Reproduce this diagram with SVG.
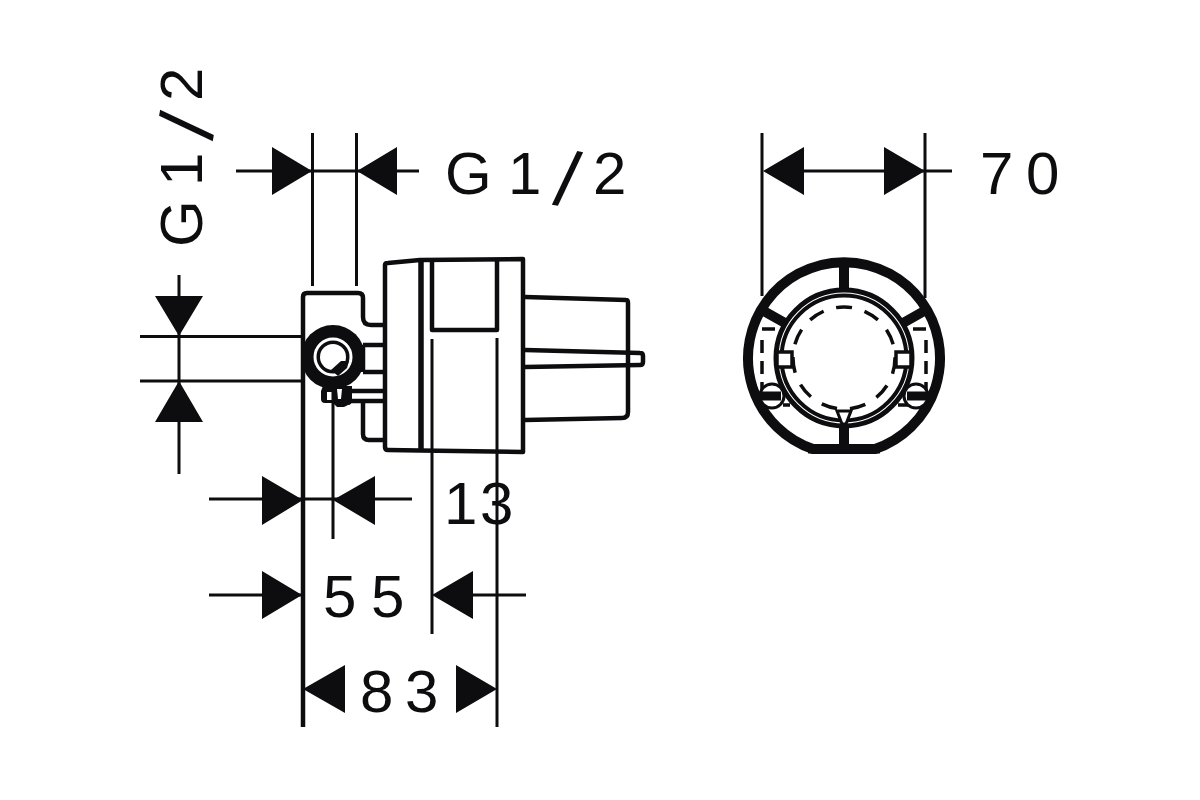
<svg xmlns="http://www.w3.org/2000/svg" width="1200" height="800" viewBox="0 0 1200 800">
<style>
.dim{fill:none;stroke:#0d0d0f;stroke-width:3}
.ar{fill:#0d0d0f;stroke:none}
.o{fill:none;stroke:#0d0d0f;stroke-width:4.500;stroke-linejoin:round}
.k{fill:none;stroke:#0d0d0f}
.t{font-family:"Liberation Sans",Arial,sans-serif;font-size:60px;fill:#0d0d0f}
.s{font-size:78px}
</style>
<rect width="1200" height="800" fill="#fff"/>
<g id="side-view">
<path class="o" d="M303 727V297Q303 293 307 293H358Q363 293 363 298V317Q363 325 371 325H385"/>
<path class="o" d="M363 345H385M363 372H385M363 372V345M345 391H385M345 401H385M363 401V434Q363 440 369 440H385"/>
<path class="o" d="M385 265Q385 263 388 263L420 260L523 259V452L420 450.500L388 450Q385 450 385 447Z"/>
<path class="o" style="stroke-width:5.500" d="M421 260V450"/>
<path class="o" d="M432 260V330H497V259"/>
<path class="o" d="M525 297L626 300Q628 300 628 303V412Q628 418 622 418L525 420"/>
<path class="o" d="M525 350L640 353Q643 353 643 356V362Q643 365 640 365L525 367"/>
<circle cx="333" cy="357" r="32" fill="#0d0d0f"/>
<circle cx="333" cy="357" r="18" fill="none" stroke="#fff" stroke-width="3"/>
<circle cx="333" cy="357" r="13" fill="#fff"/>
<path d="M331 370L341 361L349 361L347 368L338 376Z" fill="#0d0d0f"/>
<path d="M323 386H352V400Q352 405 348 405L344 407L337 407L333 403H325Q321 403 321 399V391Z" fill="#0d0d0f"/>
<rect x="327" y="392" width="5" height="8" fill="#fff"/>
<path d="M337 389H342L341 399H338Z" fill="#fff"/>
</g>
<g id="front-view">
<path class="k" d="M813 449A96 96 0 1 1 875 449Z" stroke-width="10" stroke-linejoin="round"/>
<path class="k" d="M808 450.500H880" stroke-width="6"/>
<circle class="k" cx="844" cy="358" r="68" stroke-width="5"/>
<circle class="k" cx="844" cy="358" r="62.500" stroke-width="4"/>
<circle class="k" cx="844" cy="358" r="51" stroke-width="3.500" stroke-dasharray="16 13"/>
<path class="k" d="M844 261V292M844 424V452M762 310L785 323M926 310L903 323" stroke-width="10"/>
<path class="k" d="M762 329H775M913 329H926M762 405H790M898 405H926M762 340V395M926 340V395" stroke-width="3.500" stroke-dasharray="13 8"/>
<circle cx="772" cy="396" r="12" fill="#fff" stroke="#0d0d0f" stroke-width="3"/>
<circle cx="916" cy="396" r="12" fill="#fff" stroke="#0d0d0f" stroke-width="3"/>
<path class="k" d="M758 396H781M907 396H930" stroke-width="9"/>
<path d="M777 352H792V367H777Z" fill="#fff" stroke="#0d0d0f" stroke-width="3.500"/>
<path d="M896 352H911V367H896Z" fill="#fff" stroke="#0d0d0f" stroke-width="3.500"/>
<path d="M837 411H851L846 424H842Z" fill="#fff" stroke="#0d0d0f" stroke-width="3"/>
</g>
<g id="connectors">
<path class="dim" d="M236 171H419M312.500 133V286M356.500 133V286M140 336.500H303M140 381H303M179 275V474M209 499H412M333 385V539M209 595H303M473 595H526M432 339V634M497 338V727M762 133V296M925 133V298M804 171H952"/>
<path class="ar" d="M272 147V195L312 171ZM397 147V195L357 171ZM155 296H203L179 336ZM155 422H203L179 381ZM262 476V525L303 500ZM375 476V525L333 500ZM262 571V619L302 595ZM473 571V619L432 595ZM345 665V713L303 689ZM456 665V713L497 689ZM804 147V195L763 171ZM884 147V195L925 171Z"/>
</g>
<g id="labels">
<text class="t" y="194"><tspan x="445">G</tspan><tspan x="508">1</tspan><tspan class="s" x="552" y="204" rotate="10">/</tspan><tspan x="593" y="194">2</tspan></text>
<text class="t" x="980 1026" y="194">70</text>
<text class="t" x="444 480" y="524">13</text>
<text class="t" x="323 371" y="617">55</text>
<text class="t" x="360 405" y="712">83</text>
<text class="t" transform="translate(202 247) rotate(-90)"><tspan x="0">G</tspan><tspan x="61">1</tspan><tspan class="s" x="106" y="10" rotate="10">/</tspan><tspan x="146" y="0">2</tspan></text>
</g>
</svg>
